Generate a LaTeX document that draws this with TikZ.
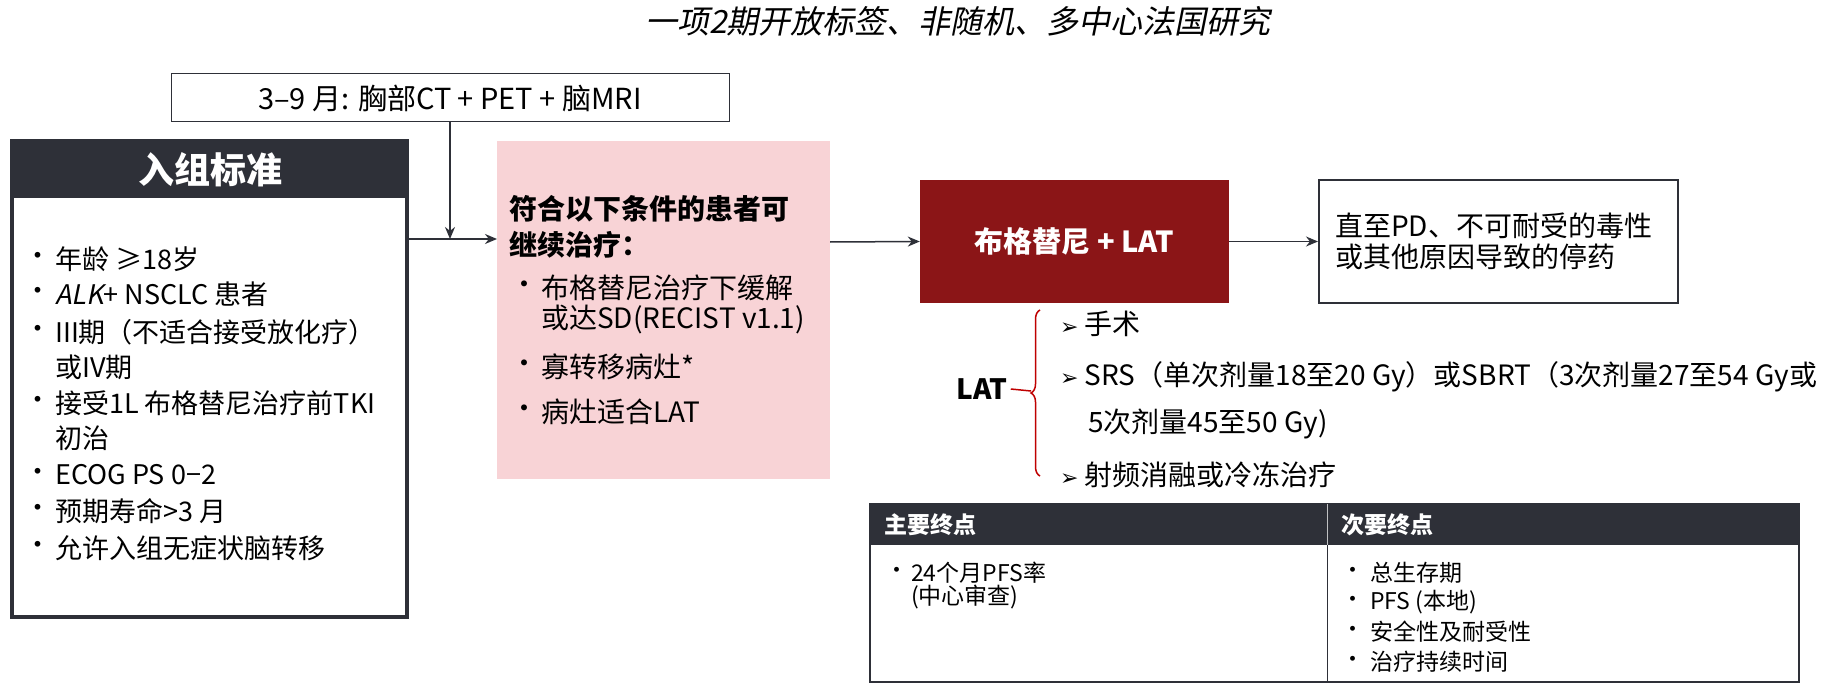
\documentclass[tikz,border=0pt]{standalone}
\usepackage{fontspec}
\setmainfont{Noto Sans CJK SC}
\newfontfamily\cjkit{Noto Sans CJK SC}[FakeSlant=0.2]
\newfontfamily\symf{DejaVu Sans}
\usetikzlibrary{arrows.meta,decorations.pathreplacing}
\definecolor{dk}{HTML}{2E3038}
\definecolor{pinkf}{HTML}{F8D3D6}
\definecolor{redb}{HTML}{8B1517}
\tikzset{x=1pt,y=-1pt,
 arr/.style={-{Stealth[length=12pt,width=10pt]},line width=1.5pt,draw=dk},
 L/.style={anchor=west,inner sep=0pt}}
\begin{document}
\begin{tikzpicture}
\useasboundingbox[fill=white] (0,0) rectangle (1844,690);
\node (title) at (958,21) {\fontsize{32}{36}\selectfont\cjkit 一项2期开放标签、非随机、多中心法国研究};
\node[draw=dk,line width=1pt,minimum width=558pt,minimum height=48pt,font=\fontsize{29}{32}\selectfont] (top) at (450,98) {3–9 月: 胸部CT + PET + 脑MRI};
% inclusion
\draw[dk,line width=4pt,fill=white] (12,141) rectangle (407,617);
\fill[dk] (12,141) rectangle (407,198);
\node[text=white,font=\fontsize{36}{40}\selectfont\bfseries] (inch) at (210,170) {入组标准};
\coordinate (incr) at (409,239);
\tikzset{inc/.style={L,font=\fontsize{27}{30}\selectfont}}
\foreach \y/\b/\t [count=\i] in {259/•/年龄 ≥18岁, 294/•/{{\cjkit ALK}+ NSCLC 患者}, 332/•/III期（不适合接受放化疗）, 367/ /或IV期, 403/•/接受1L 布格替尼治疗前TKI, 438/ /初治, 475/•/ECOG PS 0−2, 511/•/预期寿命>3 月, 548/•/允许入组无症状脑转移}{
  \node[inc] (ib\i) at (24,\y) {\b};
  \node[inc] (it\i) at (55,\y) {\t};
}
% pink
\fill[pinkf] (497,141) rectangle (830,479);
\coordinate (pinkl) at (497,239);
\coordinate (pinkr) at (830,242);
\tikzset{pk/.style={L,font=\fontsize{28}{30}\selectfont}}
\node[pk,font=\fontsize{28}{30}\selectfont\bfseries] (pt1) at (509,209) {符合以下条件的患者可};
\node[pk,font=\fontsize{28}{30}\selectfont\bfseries] (pt2) at (509,245) {继续治疗：};
\foreach \y/\b/\t [count=\i] in {288/•/布格替尼治疗下缓解, 320/ /或达SD(RECIST v1.1), 367/•/寡转移病灶*, 412/•/病灶适合LAT}{
  \node[pk] (pb\i) at (510,\y) {\b};
  \node[pk] (ptt\i) at (541,\y) {\t};
}
\coordinate (junc) at (450,239);
\draw[arr] (top.south -| junc) -- (junc);
\draw[arr] (incr) -- (pinkl);
% red
\node[fill=redb,minimum width=309pt,minimum height=123pt,text=white,font=\fontsize{29}{32}\selectfont\bfseries] (red) at (1074.5,241.5) {布格替尼 + LAT};
\draw[arr] (pinkr) -- (red.west);
\node[draw=dk,line width=2pt,minimum width=359pt,minimum height=123pt] (pd) at (1498.5,241.5) {};
\node[L,font=\fontsize{28}{30}\selectfont] (pd1) at (1335,226) {直至PD、不可耐受的毒性};
\node[L,font=\fontsize{28}{30}\selectfont] (pd2) at (1335,257) {或其他原因导致的停药};
\draw[arr] (red.east) -- (pd.west);
% LAT
\node[font=\fontsize{28}{30}\selectfont\bfseries] (lat) at (982,389) {LAT};
\draw[red!75!black,line width=1.5pt,decorate,decoration={brace,amplitude=9pt,mirror}] (1040,310) -- (1040,476);
\draw[red!75!black,line width=1.5pt] (lat.east) -- (1031,391);
\tikzset{li/.style={L,font=\fontsize{28}{30}\selectfont}}
\node[li] (l1) at (1060,324) {{\symf\fontsize{22}{24}\selectfont ➢} 手术};
\node[li] (l2) at (1060,377) {{\symf\fontsize{22}{24}\selectfont ➢} SRS（单次剂量18至20 Gy）或SBRT（3次剂量27至54 Gy或};
\node[li] (l3) at (1088,424) {5次剂量45至50 Gy)};
\node[li] (l4) at (1060,475) {{\symf\fontsize{22}{24}\selectfont ➢} 射频消融或冷冻治疗};
% table
\draw[dk,line width=2pt] (870,504) rectangle (1799,682);
\fill[dk] (870,504) rectangle (1799,545);
\draw[white!70!dk,line width=1pt] (1327,504) -- (1327,545);
\draw[dk,line width=1pt] (1327,545) -- (1327,682);
\tikzset{th/.style={L,text=white,font=\fontsize{23}{26}\selectfont\bfseries},
 td/.style={L,font=\fontsize{23}{26}\selectfont}}
\node[th] (h1) at (884,525) {主要终点};
\node[th] (h2) at (1341,525) {次要终点};
\node[td] (cb1) at (885,573) {•};
\node[td] (ct1) at (911,573) {24个月PFS率};
\node[td] (ct2) at (911,597) {(中心审查)};
\foreach \y/\t [count=\i] in {573/总生存期, 602/PFS (本地), 632/安全性及耐受性, 662/治疗持续时间}{
  \node[td] (db\i) at (1341,\y) {•};
  \node[td] (dt\i) at (1370,\y) {\t};
}
\end{tikzpicture}
\end{document}
